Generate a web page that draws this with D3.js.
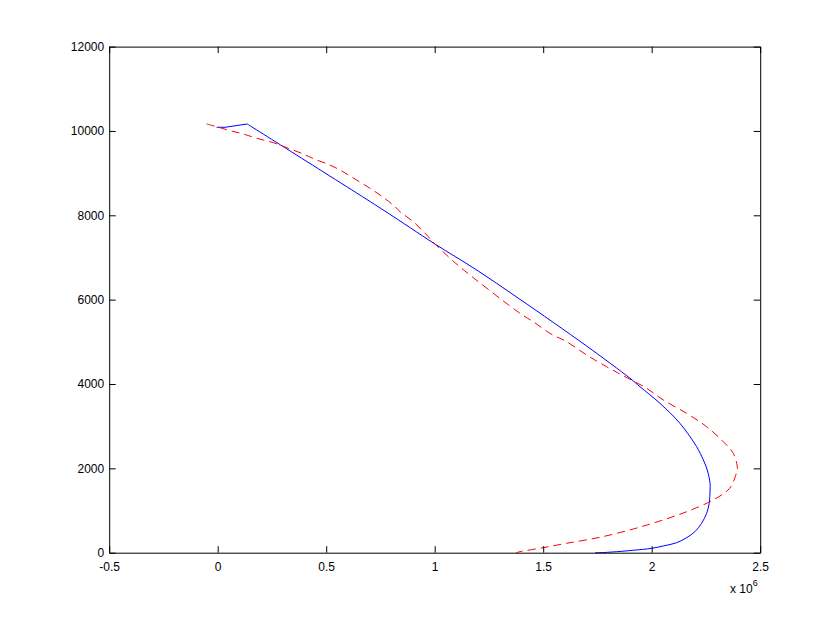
<!DOCTYPE html>
<html>
<head>
<meta charset="utf-8">
<script src="https://cdn.jsdelivr.net/npm/d3@7"></script>
<style>
  html, body { margin: 0; padding: 0; background: #ffffff; }
  svg { display: block; }
  text { font-family: "Liberation Sans", Arial, Helvetica, sans-serif; font-size: 12px; fill: #000; }
</style>
</head>
<body>
<script>
// ---- data (x in units of 1e6) ----
const xTicks = [-0.5, 0, 0.5, 1, 1.5, 2, 2.5];
const xTickLabels = ["-0.5", "0", "0.5", "1", "1.5", "2", "2.5"];
const yTicks = [0, 2000, 4000, 6000, 8000, 10000, 12000];
const yTickLabels = ["0", "2000", "4000", "6000", "8000", "10000", "12000"];
const xDomain = [-0.5, 2.5];
const yDomain = [0, 12000];
const xExponentBase = "x 10";
const xExponent = "6";

const blueX = [-0.005, 0.034, 0.136, 0.756, 1.001, 1.186, 1.393, 1.700, 1.900, 1.946, 2.038, 2.130, 2.207, 2.238, 2.256, 2.269, 2.269, 2.265, 2.253, 2.230, 2.199, 2.161, 2.115, 2.053, 2.000, 1.915, 1.839, 1.762, 1.739];
const blueY = [10087, 10087, 10165, 8149, 7320, 6727, 6008, 4901, 4135, 3936, 3542, 3068, 2513, 2198, 1961, 1646, 1487, 1171, 934, 697, 498, 356, 237, 159, 104, 57, 24, 0, 0];

const redX = [-0.051, -0.005, 0.057, 0.118, 0.180, 0.256, 0.325, 0.387, 0.448, 0.517, 0.577, 0.640, 0.702, 0.763, 0.817, 0.840, 0.901, 0.963, 1.001, 1.071, 1.124, 1.393, 1.454, 1.531, 1.608, 1.700, 1.792, 1.854, 1.900, 1.977, 2.053, 2.161, 2.253, 2.330, 2.376, 2.395, 2.390, 2.359, 2.283, 2.161, 2.038, 1.915, 1.761, 1.608, 1.500, 1.393, 1.375];
const redY = [10165, 10101, 10006, 9928, 9826, 9722, 9589, 9470, 9328, 9193, 9034, 8837, 8640, 8427, 8204, 8085, 7848, 7533, 7320, 6981, 6743, 5676, 5477, 5202, 5003, 4688, 4410, 4237, 4111, 3898, 3621, 3305, 2988, 2632, 2357, 2000, 1880, 1527, 1250, 972, 752, 562, 365, 223, 119, 24, 0];

// ---- layout ----
const W = 840, H = 621;
const mLeft = 109.2, mRight = 760.2, mTop = 46.6, mBottom = 552.7;
const tickLen = 6.5;

const svg = d3.select("body").append("svg").attr("width", W).attr("height", H);

const x = d3.scaleLinear().domain(xDomain).range([mLeft, mRight]);
const y = d3.scaleLinear().domain(yDomain).range([mBottom, mTop]);

// series
const smooth = d3.line().x(d => x(d[0])).y(d => y(d[1])).curve(d3.curveCatmullRom.alpha(0.5));
const straight = d3.line().x(d => x(d[0])).y(d => y(d[1])).curve(d3.curveLinear);
const blue = blueX.map((v, i) => [v, blueY[i]]);
const red = redX.map((v, i) => [v, redY[i]]);

const plot = svg.append("g");
// blue: sharp corner at the top, so straight start then smooth remainder
plot.append("path").datum(blue.slice(0, 3)).attr("d", straight)
  .attr("fill", "none").attr("stroke", "#0000ff").attr("stroke-width", 1);
plot.append("path").datum(blue.slice(2)).attr("d", smooth)
  .attr("fill", "none").attr("stroke", "#0000ff").attr("stroke-width", 1);
plot.append("path").datum(red).attr("d", smooth)
  .attr("fill", "none").attr("stroke", "#ff0000").attr("stroke-width", 1)
  .attr("stroke-dasharray", "8,5");

// axes (MATLAB style: inward ticks on all four sides)
const fmtX = (d, i) => xTickLabels[i];
const fmtY = (d, i) => yTickLabels[i];

const axB = svg.append("g").attr("transform", `translate(0,${mBottom})`)
  .call(d3.axisBottom(x).tickValues(xTicks).tickFormat(fmtX).tickSizeInner(-tickLen).tickSizeOuter(0).tickPadding(10));
const axT = svg.append("g").attr("transform", `translate(0,${mTop})`)
  .call(d3.axisTop(x).tickValues(xTicks).tickFormat("").tickSizeInner(-tickLen).tickSizeOuter(0));
const axL = svg.append("g").attr("transform", `translate(${mLeft},0)`)
  .call(d3.axisLeft(y).tickValues(yTicks).tickFormat(fmtY).tickSizeInner(-tickLen).tickSizeOuter(0).tickPadding(5));
const axR = svg.append("g").attr("transform", `translate(${mRight},0)`)
  .call(d3.axisRight(y).tickValues(yTicks).tickFormat("").tickSizeInner(-tickLen).tickSizeOuter(0));

[axB, axT, axL, axR].forEach(a => {
  a.select(".domain").attr("stroke", "#000").attr("stroke-width", 1);
  a.selectAll(".tick line").attr("stroke", "#000");
  a.selectAll("text").attr("font-family", "Liberation Sans, Arial, sans-serif").attr("font-size", 12).attr("fill", "#000");
});

// exponent label
const ex = svg.append("text").attr("x", 730).attr("y", 593).attr("font-size", 12);
ex.append("tspan").text(xExponentBase);
ex.append("tspan").attr("dy", -7).attr("font-size", 9).text(xExponent);
</script>
</body>
</html>
